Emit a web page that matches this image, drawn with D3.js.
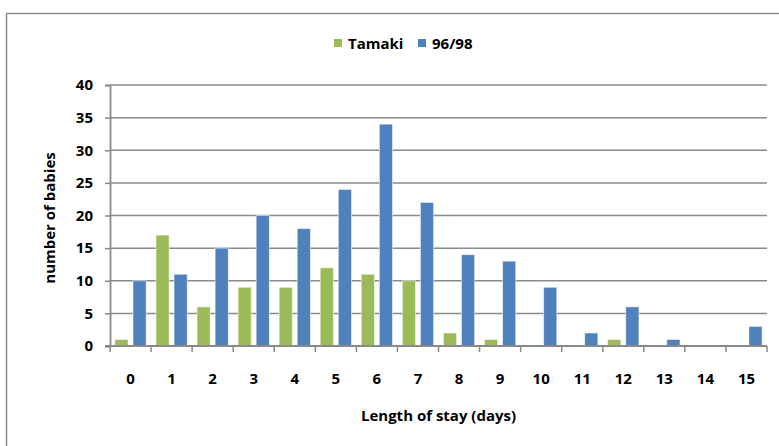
<!DOCTYPE html>
<html>
<head>
<meta charset="utf-8">
<script src="https://cdn.jsdelivr.net/npm/d3@7"></script>
<style>
  html, body { margin: 0; padding: 0; background: #fff; }
  svg { display: block; }
  text { font-family: "Open Sans", Lato, "Liberation Sans", sans-serif; font-weight: bold; fill: #000; }
</style>
</head>
<body>
<svg id="chart" width="779" height="446"></svg>
<script>
// Length of stay (days)
const categories = ["0","1","2","3","4","5","6","7","8","9","10","11","12","13","14","15"];
const seriesNames = ["Tamaki", "96/98"];
const tamaki = [1, 17, 6, 9, 9, 12, 11, 10, 2, 1, 0, 0, 1, 0, 0, 0];
const ninetySix = [10, 11, 15, 20, 18, 24, 34, 22, 14, 13, 9, 2, 6, 1, 0, 3];
const yTicks = [0, 5, 10, 15, 20, 25, 30, 35, 40];

const colors = ["#9BBB59", "#4F81BD"];
const series = [tamaki, ninetySix];

const svg = d3.select("#chart");
const W = 779, H = 446;

// chart frame
svg.append("rect")
  .attr("x", 6.5).attr("y", 13.5)
  .attr("width", W + 10).attr("height", H + 10)
  .attr("fill", "#fff").attr("stroke", "#8c8c8c").attr("stroke-width", 1.5);

const plot = { left: 110, right: 767, top: 85, bottom: 346 };

const x = d3.scaleBand().domain(categories).range([plot.left, plot.right]).paddingInner(0).paddingOuter(0);
const inner = d3.scaleBand().domain(d3.range(series.length)).range([0, x.bandwidth()]).paddingInner(0.27).paddingOuter(0.27);
const y = d3.scaleLinear().domain([0, 40]).range([plot.bottom, plot.top]);

// gridlines
svg.append("g")
  .selectAll("line").data(yTicks.filter(d => d > 0)).join("line")
  .attr("x1", plot.left).attr("x2", plot.right)
  .attr("y1", d => y(d)).attr("y2", d => y(d))
  .attr("stroke", "#8a8a8a").attr("stroke-width", 1.5);

// bars
series.forEach((vals, si) => {
  svg.append("g")
    .selectAll("rect").data(vals).join("rect")
    .attr("x", (d, i) => x(categories[i]) + inner(si))
    .attr("width", inner.bandwidth())
    .attr("y", d => y(d))
    .attr("height", d => y(0) - y(d))
    .attr("fill", colors[si])
    .attr("stroke", "#ffffff").attr("stroke-opacity", 0.55).attr("stroke-width", 1);
});

// y axis
const yAxis = svg.append("g").attr("transform", `translate(${plot.left},0)`)
  .call(d3.axisLeft(y).tickValues(yTicks).tickSize(5).tickPadding(12));
yAxis.select(".domain").attr("stroke", "#8a8a8a").attr("stroke-width", 1.8);
yAxis.selectAll(".tick line").attr("stroke", "#8a8a8a").attr("stroke-width", 1.5);
yAxis.selectAll("text").attr("font-size", null).attr("font-family", null)
  .style("font-size", "15px");

// x axis with ticks on category boundaries
const xAxisG = svg.append("g");
xAxisG.append("line")
  .attr("x1", plot.left - 5).attr("x2", plot.right)
  .attr("y1", y(0)).attr("y2", y(0))
  .attr("stroke", "#8a8a8a").attr("stroke-width", 1.8);
const bounds = categories.map(c => x(c)).concat([x(categories[categories.length - 1]) + x.bandwidth()]);
xAxisG.selectAll("line.tick").data(bounds).join("line").attr("class", "tick")
  .attr("x1", d => d).attr("x2", d => d)
  .attr("y1", y(0)).attr("y2", y(0) + 6)
  .attr("stroke", "#8a8a8a").attr("stroke-width", 1.5);
xAxisG.selectAll("text").data(categories).join("text")
  .attr("x", d => x(d) + x.bandwidth() / 2)
  .attr("y", 384)
  .attr("text-anchor", "middle")
  .style("font-size", "15px")
  .text(d => d);

// axis titles
svg.append("text")
  .attr("x", (plot.left + plot.right) / 2).attr("y", 421)
  .attr("text-anchor", "middle")
  .style("font-size", "15px")
  .text("Length of stay (days)");

svg.append("text")
  .attr("transform", "translate(55,218) rotate(-90)")
  .attr("text-anchor", "middle")
  .style("font-size", "15px")
  .text("number of babies");

// legend
const legend = svg.append("g");
const legendItems = [{ name: seriesNames[0], x: 334, c: colors[0] }, { name: seriesNames[1], x: 418, c: colors[1] }];
legendItems.forEach(it => {
  legend.append("rect").attr("x", it.x).attr("y", 39).attr("width", 8).attr("height", 8).attr("fill", it.c);
  legend.append("text").attr("x", it.x + 14).attr("y", 49)
    .style("font-size", "15px").text(it.name);
});
</script>
</body>
</html>
